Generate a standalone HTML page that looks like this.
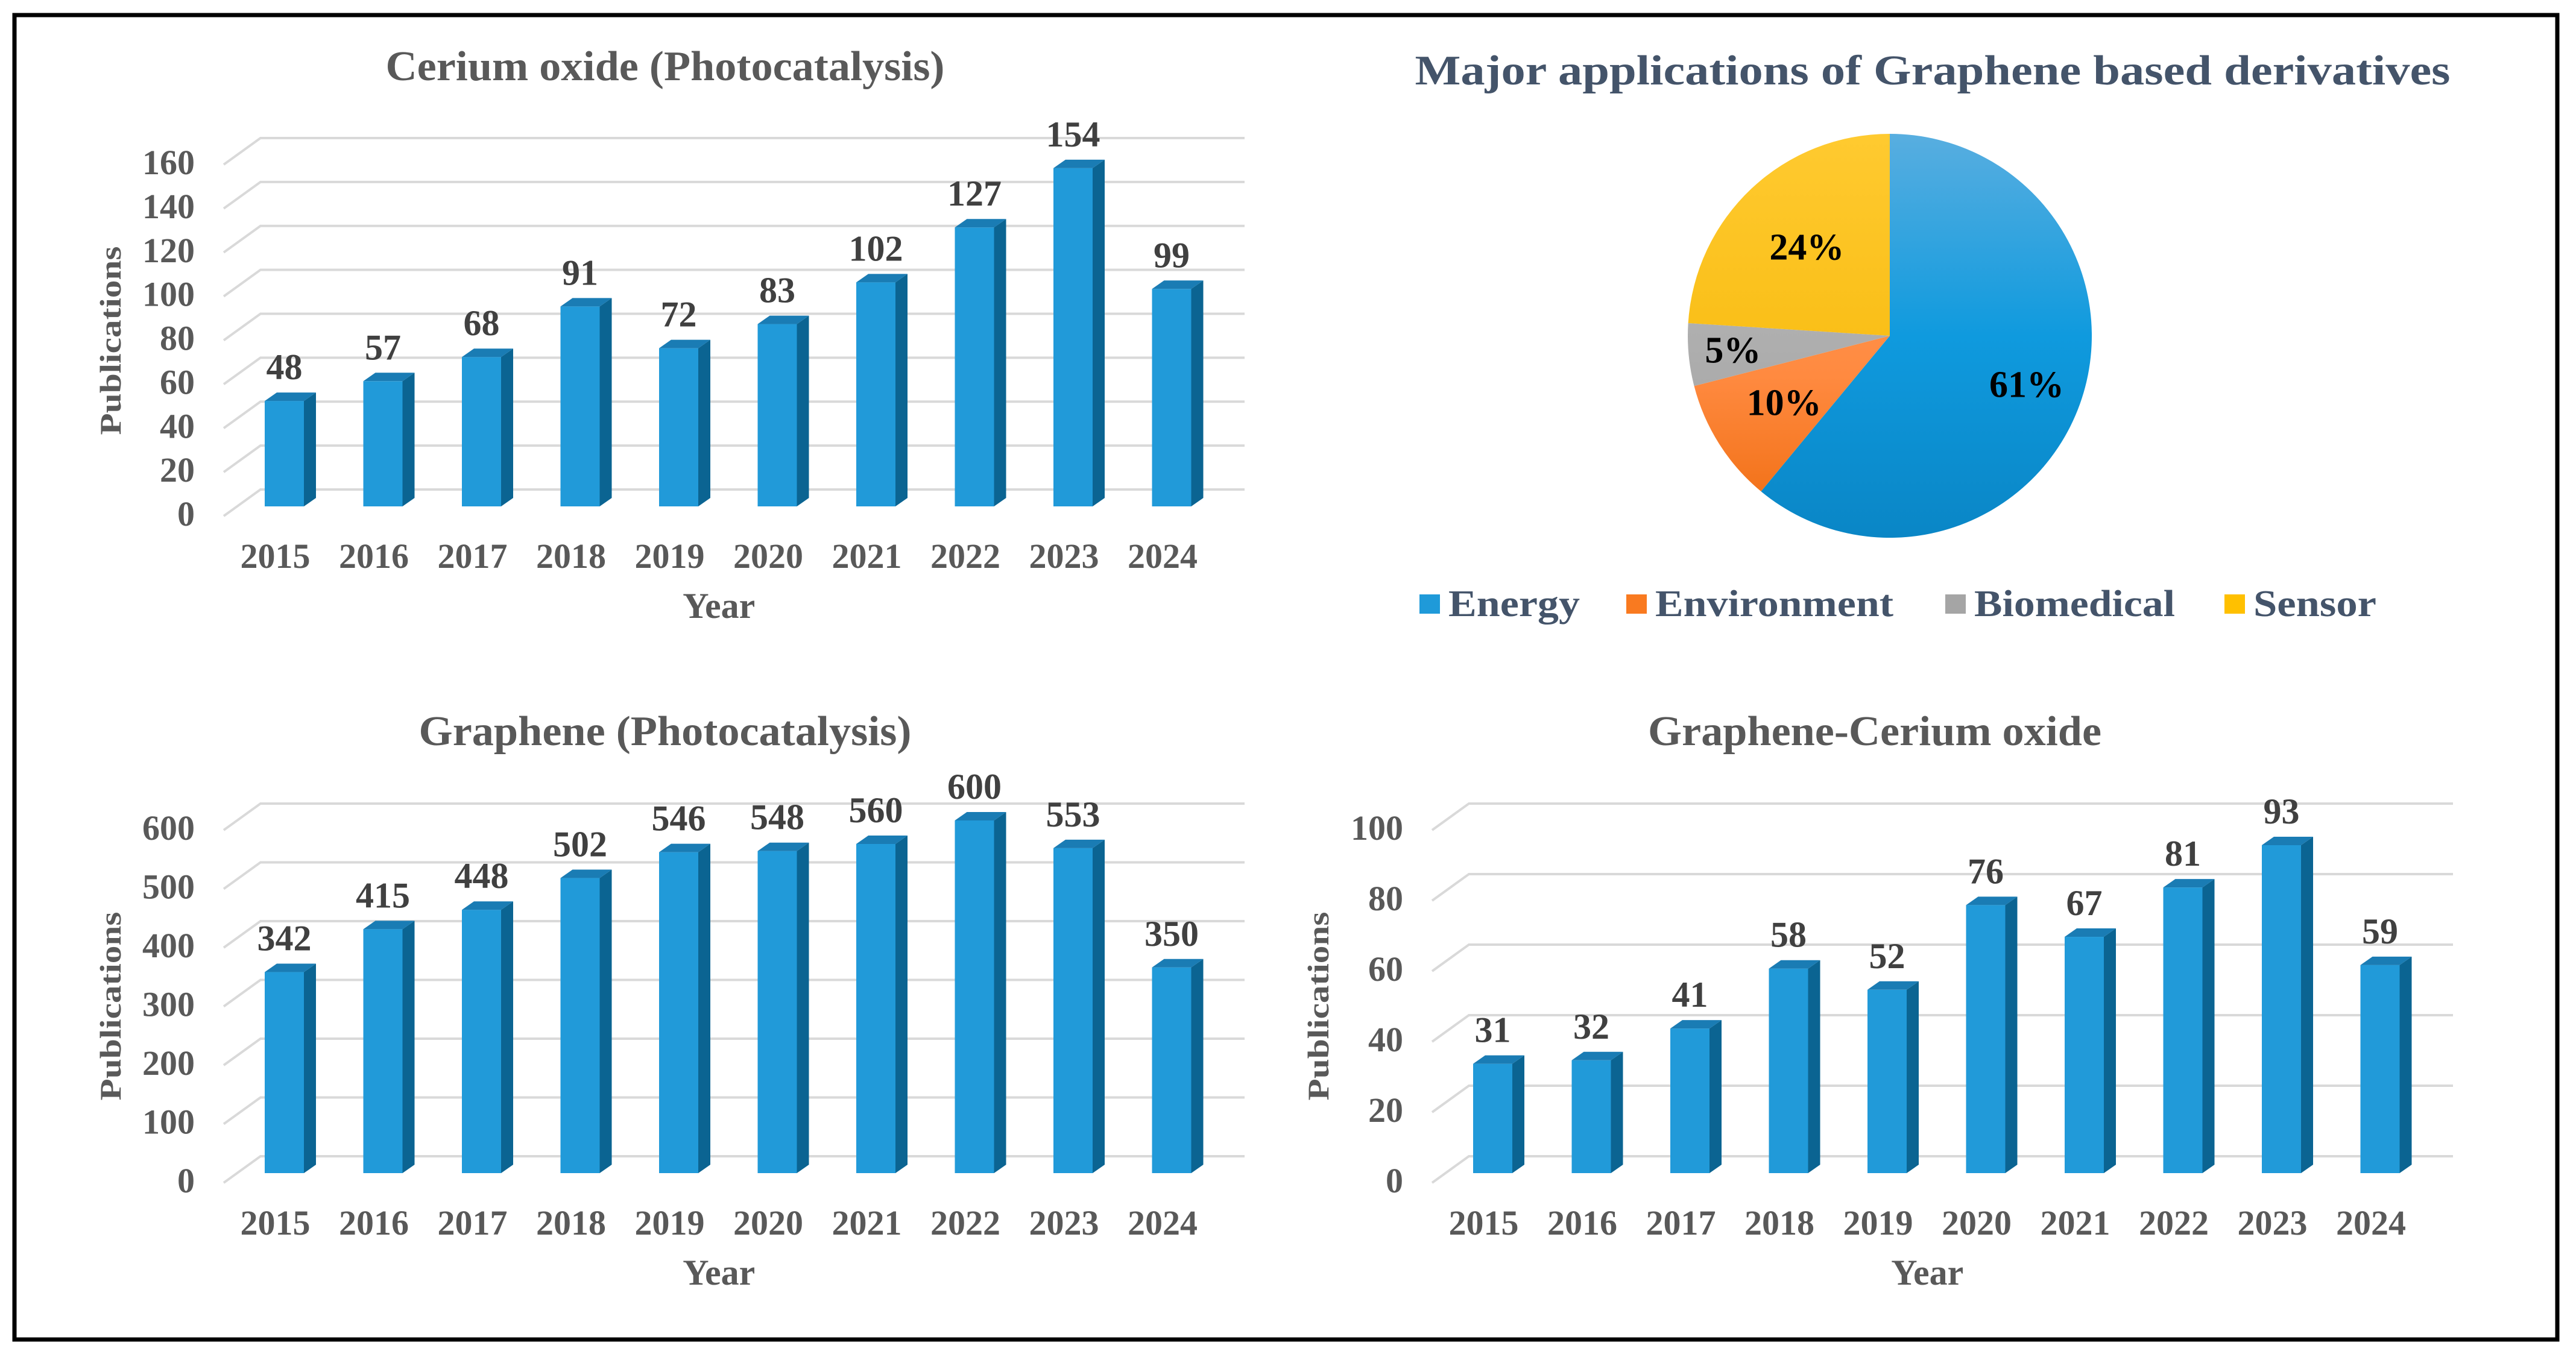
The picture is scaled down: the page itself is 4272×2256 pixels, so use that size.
<!DOCTYPE html>
<html><head><meta charset="utf-8"><style>
html,body{margin:0;padding:0;background:#fff}
svg{display:block}
text{font-family:"Liberation Serif",serif;font-weight:bold}
</style></head><body>
<svg id="root" width="4272" height="2256" viewBox="0 0 4272 2256" xmlns="http://www.w3.org/2000/svg">
<defs>
<linearGradient id="gE" gradientUnits="userSpaceOnUse" x1="0" y1="223" x2="0" y2="892"><stop offset="0" stop-color="#58aee0"/><stop offset="0.5" stop-color="#0f9ade"/><stop offset="1" stop-color="#0a86c6"/></linearGradient>
<linearGradient id="gO" gradientUnits="userSpaceOnUse" x1="0" y1="223" x2="0" y2="892"><stop offset="0" stop-color="#ffa060"/><stop offset="0.6" stop-color="#ff8a40"/><stop offset="1" stop-color="#ee6a0c"/></linearGradient>
<linearGradient id="gG" gradientUnits="userSpaceOnUse" x1="0" y1="223" x2="0" y2="892"><stop offset="0" stop-color="#bdbdbd"/><stop offset="1" stop-color="#a0a0a0"/></linearGradient>
<linearGradient id="gY" gradientUnits="userSpaceOnUse" x1="0" y1="223" x2="0" y2="892"><stop offset="0" stop-color="#ffca30"/><stop offset="1" stop-color="#f4b400"/></linearGradient>
</defs>
<rect x="24" y="25" width="4217" height="2197" fill="none" stroke="#000" stroke-width="7"/>
<g id="c1"></g>
<g id="c3"></g>
<g id="c4"></g>
<g id="pie"></g>
</svg>
<script>
const years = ["2015","2016","2017","2018","2019","2020","2021","2022","2023","2024"];
const ceriumValues = [48,57,68,91,72,83,102,127,154,99];
const ceriumTicks = [0,20,40,60,80,100,120,140,160];
const grapheneValues = [342,415,448,502,546,548,560,600,553,350];
const grapheneTicks = [0,100,200,300,400,500,600];
const gceValues = [31,32,41,58,52,76,67,81,93,59];
const gceTicks = [0,20,40,60,80,100];
const pieLabels = ["Energy","Environment","Biomedical","Sensor"];
const pieValues = [61,10,5,24];

const NS = "http://www.w3.org/2000/svg";
function mk(tag, attrs, parent){
  const e = document.createElementNS(NS, tag);
  for (const k in attrs) e.setAttribute(k, attrs[k]);
  parent.appendChild(e);
  return e;
}

function barChart(g, cfg){
  // cfg: title, titleX, titleW, titleY, backX0, backX1, back0, pxPerUnit, values, ticks, barX0, nameSlug
  const y = v => cfg.back0 - v*cfg.k;
  const t = mk("text", {x:cfg.titleX, y:cfg.titleY, "text-anchor":"middle", "font-size":70, fill:"#595959", textLength:cfg.titleW, lengthAdjust:"spacingAndGlyphs"}, g);
  
  
  t.textContent = cfg.title;
  const frontX = cfg.backX0 - 61;
  cfg.ticks.forEach(tv => {
    const yb = y(tv);
    const gl = mk("path", {d:`M${frontX},${yb+44} L${cfg.backX0},${yb} L${cfg.backX1},${yb}`, fill:"none", stroke:"#d9d9d9", "stroke-width":4}, g);
    
    
    const tl = mk("text", {x:frontX-48, y:yb+44+16, "text-anchor":"end", "font-size":58, fill:"#595959"}, g);
    
    
    tl.textContent = tv;
  });
  const yb0 = cfg.back0 + 28;
  const w = 65, dx = 20, dy = 14, step = 163.5;
  cfg.values.forEach((v, i) => {
    const x = cfg.barX0 + i*step;
    const yt = yb0 - v*cfg.k;
    const bg = mk("g", {}, g);
    
    
    mk("rect", {x:x, y:yt, width:w, height:yb0-yt, fill:"#219ad9"}, bg);
    mk("path", {d:`M${x+w},${yt} L${x+w+dx},${yt-dy} L${x+w+dx},${yb0-dy} L${x+w},${yb0} Z`, fill:"#0b6492"}, bg);
    mk("path", {d:`M${x},${yt} L${x+w},${yt} L${x+w+dx},${yt-dy} L${x+dx},${yt-dy} Z`, fill:"#1a7cb4"}, bg);
    const vl = mk("text", {x:x+w/2, y:yt-36, "text-anchor":"middle", "font-size":60, fill:"#404040"}, g);
    
    
    vl.textContent = v;
    const cl = mk("text", {x:x+w/2-15, y:yb0+102, "text-anchor":"middle", "font-size":58, fill:"#595959"}, g);
    
    
    cl.textContent = years[i];
  });
  const midX = cfg.barX0 + w/2 - 15 + 4.5*step;
  const xt = mk("text", {x:midX, y:yb0+185, "text-anchor":"middle", "font-size":60, fill:"#595959"}, g);
  
  
  xt.textContent = "Year";
  const yt2 = mk("text", {x:0, y:0, "text-anchor":"middle", "font-size":50, fill:"#595959", transform:`translate(${cfg.pubX},${cfg.pubY}) rotate(-90)`, textLength:313, lengthAdjust:"spacingAndGlyphs"}, g);
  
  
  yt2.textContent = "Publications";
}

barChart(document.getElementById("c1"), {title:"Cerium oxide (Photocatalysis)", titleX:1103, titleW:927, titleY:133,
  backX0:432, backX1:2064, back0:812, k:583/160, values:ceriumValues, ticks:ceriumTicks, barX0:439, pubX:200, pubY:565});
barChart(document.getElementById("c3"), {title:"Graphene (Photocatalysis)", titleX:1103, titleW:817, titleY:1236,
  backX0:432, backX1:2064, back0:1918, k:585/600, values:grapheneValues, ticks:grapheneTicks, barX0:439, pubX:200, pubY:1669});
barChart(document.getElementById("c4"), {title:"Graphene-Cerium oxide", titleX:3109, titleW:752, titleY:1236,
  backX0:2436, backX1:4068, back0:1918, k:585/100, values:gceValues, ticks:gceTicks, barX0:2443, pubX:2203, pubY:1669});

// Pie
const pg = document.getElementById("pie");
const pt = mk("text", {x:3205, y:140, "text-anchor":"middle", "font-size":70, fill:"#44546a", textLength:1717, lengthAdjust:"spacingAndGlyphs"}, pg);


pt.textContent = "Major applications of Graphene based derivatives";
const cx = 3134, cy = 557, r = 335;
const fills = ["url(#gE)","url(#gO)","url(#gG)","url(#gY)"];
const legendColors = ["#1f9ad9","#f97a20","#a5a5a5","#ffc000"];
const labelR = [0.72,0.62,0.78,0.6];
const total = pieValues.reduce((a,b)=>a+b,0);
let acc = 0;
pieValues.forEach((v, i) => {
  const a0 = acc/total*2*Math.PI, a1 = (acc+v)/total*2*Math.PI;
  acc += v;
  const p = a => [cx + r*Math.sin(a), cy - r*Math.cos(a)];
  const [x0,y0] = p(a0), [x1,y1] = p(a1);
  const large = (a1-a0) > Math.PI ? 1 : 0;
  const s = mk("path", {d:`M${cx},${cy} L${x0},${y0} A${r},${r} 0 ${large} 1 ${x1},${y1} Z`, fill:fills[i]}, pg);
  
  
  const am = (a0+a1)/2, lr = r*labelR[i];
  const lt = mk("text", {x:cx + lr*Math.sin(am), y:cy - lr*Math.cos(am) + 20, "text-anchor":"middle", "font-size":62, fill:"#000"}, pg);
  
  
  lt.textContent = v + "%";
});
const legX = [2354, 2697, 3226, 3689];
const legTW = [218, 395, 333, 204];
pieLabels.forEach((lab, i) => {
  const lg = mk("g", {}, pg);
  
  
  mk("rect", {x:legX[i], y:986, width:34, height:32, fill:legendColors[i]}, lg);
  const tx = mk("text", {x:legX[i]+48, y:1022, "font-size":62, fill:"#44546a", textLength:legTW[i], lengthAdjust:"spacingAndGlyphs"}, lg);
  tx.textContent = lab;
});
</script>
</body></html>
